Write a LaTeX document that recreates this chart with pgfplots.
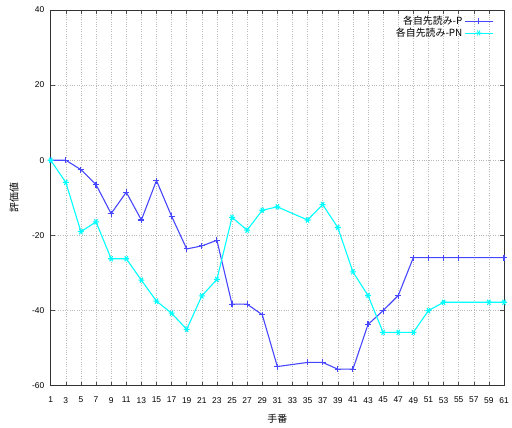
\documentclass[border=0pt]{standalone}
\usepackage{pgfplots}
\pgfplotsset{compat=1.18}
\usepackage{fontspec}
\setmainfont{Liberation Sans}
\newfontfamily\jp{Noto Sans CJK JP}
\definecolor{pblue}{RGB}{70,70,255}
\definecolor{pncyan}{RGB}{0,255,255}

\begin{document}
\begin{tikzpicture}
\begin{axis}[
  name=main,
  scale only axis, width=456bp, height=378bp,
  xmin=1, xmax=61, ymin=-60, ymax=40,
  xtick={1,3,...,61}, ytick={-60,-40,...,40},
  tick align=inside, major tick length=4bp,
  grid=major, grid style={dotted, gray!55, line width=0.5pt},
  axis line style={black!80, line width=0.6pt},
  tick style={black!70, line width=0.5pt},
  ticklabel style={font=\fontsize{8.5}{10}\selectfont},
  yticklabel style={xshift=-3bp},
  xticklabel style={yshift=-8bp},
  /pgf/number format/assume math mode=true,
  xlabel={\jp 手番}, ylabel={\jp 評価値},
  label style={font=\fontsize{10}{12}\selectfont},
  xlabel style={at={(axis description cs:0.5,0)}, anchor=center, yshift=-33bp},
  ylabel style={at={(axis description cs:-0.081,0.5)}, anchor=center},
  clip=false,
  legend plot pos=right,
  legend cell align=right,
  legend image code/.code={\draw[mark repeat=2,mark phase=2,#1,line width=0.7bp] plot coordinates {(0bp,0bp)(14bp,0bp)(28bp,0bp)};},
  legend style={draw=none, fill=none, at={(rel axis cs:1,1)}, anchor=north east,
    xshift=-10bp, yshift=-3bp, font=\fontsize{10}{11}\selectfont\jp,
    row sep=-2bp, inner sep=1bp},
]
\addplot[color=pblue, line width=1.1bp, mark=+, mark size=3bp] coordinates {
(1,0) (3,0) (5,-2.5) (7,-6.5) (9,-14.2) (11,-8.5) (13,-15.9) (15,-5.4)
(17,-14.9) (19,-23.6) (21,-22.8) (23,-21.3) (25,-38.3) (27,-38.3) (29,-41.1)
(31,-54.9) (35,-53.8) (37,-53.8) (39,-55.6) (41,-55.6) (43,-43.7) (45,-40)
(47,-36) (49,-25.9) (51,-25.9) (53,-25.9) (55,-25.9) (61,-25.9)
};
\addlegendentry{各自先読み-P}
\addplot[color=pncyan, line width=1.1bp, mark=asterisk, mark size=3bp, mark options={rotate=90}] coordinates {
(1,0) (3,-5.9) (5,-19) (7,-16.4) (9,-26.2) (11,-26.2) (13,-31.9) (15,-37.5)
(17,-40.7) (19,-45) (21,-36.1) (23,-31.7) (25,-15.2) (27,-18.6) (29,-13.3)
(31,-12.4) (35,-15.9) (37,-11.8) (39,-17.9) (41,-29.7) (43,-36) (45,-45.8)
(47,-45.8) (49,-45.8) (51,-40) (53,-37.8) (59,-37.8) (61,-37.8)
};
\addlegendentry{各自先読み-PN}
\end{axis}
% page frame: margins around the plot area
\useasboundingbox (main.south west) ++(-51bp,-42bp) rectangle ++(512bp,430bp);
\end{tikzpicture}
\end{document}
